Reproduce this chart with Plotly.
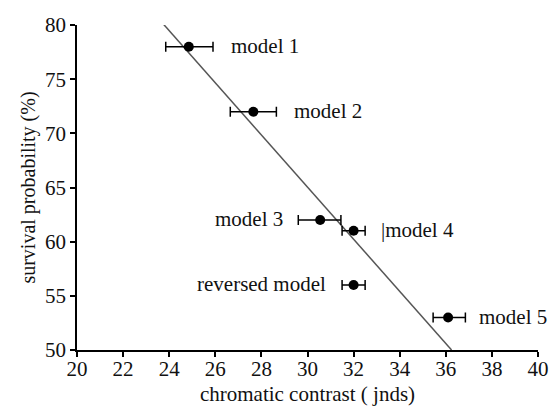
import plotly.graph_objects as go

# data
models = ["model 1", "model 2", "model 3", "model 4", "reversed model", "model 5"]
contrast = [24.85, 27.65, 30.55, 32.0, 32.0, 36.1]
err_plus = [1.05, 1.0, 0.9, 0.5, 0.5, 0.75]
err_minus = [1.0, 1.0, 0.95, 0.5, 0.5, 0.65]
survival = [78, 72, 62, 61, 56, 53]
fit_x = [23.7, 36.25]
fit_y = [80.2, 50]
x_ticks = list(range(20, 41, 2))
y_ticks = list(range(50, 81, 5))

# label placement (style)
label_anchor = ["left", "left", "right", "left", "right", "left"]
label_shift = [40, 39, -35, 25, -26, 29]
label_text = ["model 1", "model 2", "model 3", "|model 4", "reversed model", "model 5"]

font = "Liberation Serif"
txt = "#111111"

fig = go.Figure()
fig.add_trace(go.Scatter(x=fit_x, y=fit_y, mode="lines",
                         line=dict(color="#555555", width=1.5), showlegend=False,
                         cliponaxis=False))
fig.add_trace(go.Scatter(
    x=contrast, y=survival, mode="markers",
    marker=dict(color="black", size=10),
    error_x=dict(type="data", symmetric=False, array=err_plus, arrayminus=err_minus,
                 color="black", thickness=1.5, width=5),
    showlegend=False, cliponaxis=False))

for m, x, y, a, s, t in zip(models, contrast, survival, label_anchor, label_shift, label_text):
    fig.add_annotation(x=x, y=y, xref="x", yref="y", text=t, showarrow=False,
                       xanchor=a, xshift=s, yshift=1,
                       font=dict(family=font, size=21, color=txt))

fig.update_layout(
    width=550, height=406,
    margin=dict(l=77, r=12, t=25, b=56, autoexpand=False),
    paper_bgcolor="white", plot_bgcolor="white",
    font=dict(family=font, size=21, color=txt),
)
fig.update_xaxes(range=[20, 40], tickvals=x_ticks, automargin=False,
                 tickfont=dict(family=font, size=21, color=txt),
                 ticklabelstandoff=-6,
                 showgrid=False, zeroline=False, showline=True, linecolor="black",
                 linewidth=1.5, ticks="outside", ticklen=5, tickwidth=1.5, tickcolor="black",
                 title=dict(text="chromatic contrast ( jnds)", standoff=6,
                            font=dict(family=font, size=21, color=txt)))
fig.update_yaxes(range=[50, 80], tickvals=y_ticks, automargin=False,
                 tickfont=dict(family=font, size=21, color=txt),
                 showgrid=False, zeroline=False, showline=True, linecolor="black",
                 linewidth=1.5, ticks="outside", ticklen=5, tickwidth=1.5, tickcolor="black",
                 title=dict(text="survival probability (%)", standoff=4,
                            font=dict(family=font, size=20, color=txt)))

fig.write_html("out.html")
